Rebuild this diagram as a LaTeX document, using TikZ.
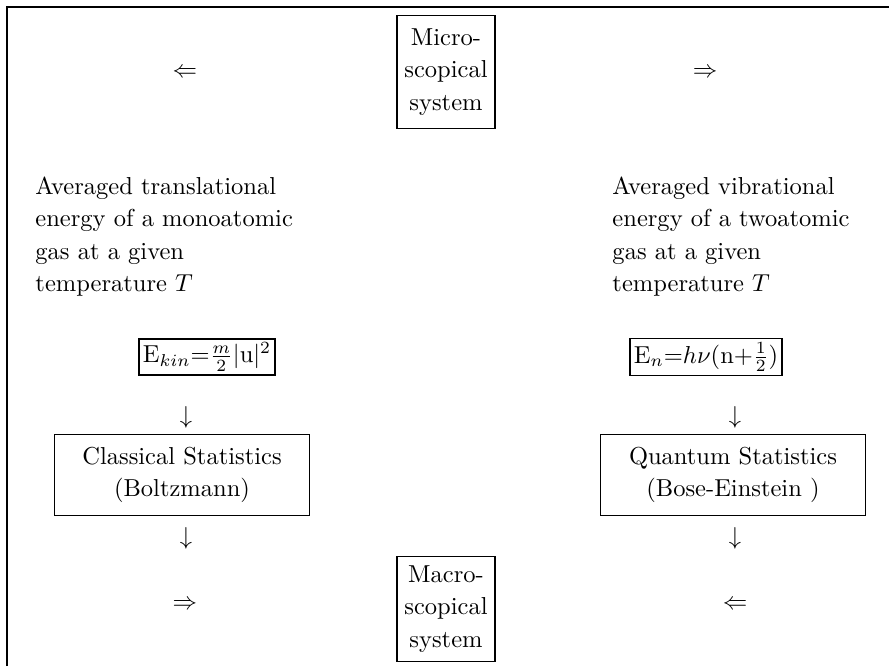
\documentclass[tikz,border=0pt]{standalone}
\usetikzlibrary{positioning}

\begin{document}
\begin{tikzpicture}[x=0.408pt, y=-0.408pt,
    sysbox/.style={draw, line width=0.6pt, align=center, inner sep=3pt,
                   font=\fontsize{10}{13.3}\selectfont},
    statbox/.style={sysbox, minimum width=104pt, minimum height=33pt},
    formbox/.style={draw, line width=0.6pt, inner sep=1.5pt},
    note/.style={align=left, inner sep=0pt, anchor=north west,
                 font=\fontsize{10}{13.3}\selectfont},
    sign/.style={inner sep=1pt}]
  \useasboundingbox (0,0) rectangle (889,666);
  % open frame
  \draw[line width=1pt] (7,666) -- (7,7) -- (889,7);

  % top row
  \node[sign] (topleft) at (185,73) {$\Leftarrow$};
  \node[sysbox, minimum height=46pt] (micro) at (446,72) {Micro-\\scopical\\system};
  \node[sign] (topright) at (705,73) {$\Rightarrow$};

  % descriptions
  \node[note] (transtext) at (35,176)
    {Averaged translational\\energy of a monoatomic\\gas at a given\\temperature $T$};
  \node[note] (vibtext) at (612,176)
    {Averaged vibrational\\energy of a twoatomic\\gas at a given\\temperature $T$};

  % energies
  \node[formbox] (ekin) at (207,357) {E$_{kin}$=$\frac{m}{2}$$|$u$|^2$};
  \node[formbox] (evib) at (706,357) {E$_n$=$h\nu$(n+$\frac{1}{2}$)};

  % statistics
  \node[sign] (downleft) at (186,417) {$\downarrow$};
  \node[sign] (downright) at (735,417) {$\downarrow$};
  \node[statbox] (classic) at (182,475) {Classical Statistics\\(Boltzmann)};
  \node[statbox, minimum width=108pt] (quantum) at (733,475) {Quantum Statistics\\(Bose-Einstein )};
  \node[sign] (downleftb) at (186,538) {$\downarrow$};
  \node[sign] (downrightb) at (735,538) {$\downarrow$};

  % bottom row
  \node[sign] (botleft) at (185,605) {$\Rightarrow$};
  \node[sysbox, minimum height=43pt] (macro) at (446,609) {Macro-\\scopical\\system};
  \node[sign] (botright) at (735,605) {$\Leftarrow$};
\end{tikzpicture}
\end{document}
